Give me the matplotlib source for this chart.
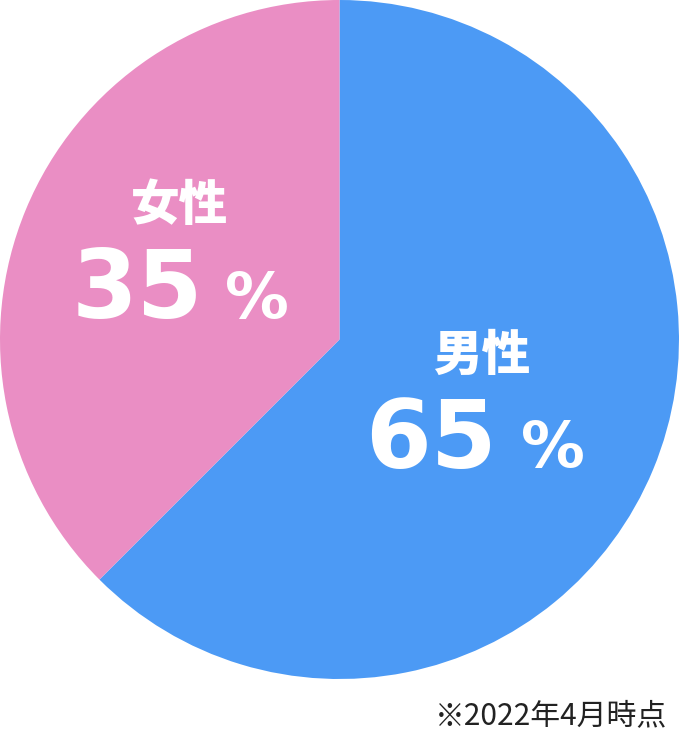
import matplotlib
matplotlib.use("Agg")
import matplotlib.pyplot as plt

# Data
categories = ["男性", "女性"]
slice_values = [62.5, 37.5]          # slice sizes as drawn in the picture
percent_labels = ["65", "35"]        # printed numbers
colors = ["#4C9AF5", "#EA8EC4"]
footnote = "※2022年4月時点"

W, H = 679, 730
fig = plt.figure(figsize=(W / 100, H / 100), dpi=100)
fig.patch.set_facecolor("white")

ax = fig.add_axes([0, (H - 679) / H, 679 / W, 679 / H])
ax.pie(slice_values, colors=colors, startangle=90, counterclock=False,
       radius=1.0, wedgeprops=dict(linewidth=0))
ax.set_xlim(-1, 1)
ax.set_ylim(-1, 1)
ax.set_aspect("equal")
ax.axis("off")


def fx(px):
    return px / W


def fy(py):
    return 1 - py / H


cjk = ["Noto Sans CJK JP", "DejaVu Sans"]

# label positions (pixel centers / baselines)
cat_pos = [(481.5, 370), (179.5, 220)]
num_pos = [(431, 468), (137, 318)]
pct_pos = [(553, 467), (257, 318)]

for cat, num, (cx, cb), (nx, nb), (px, pb) in zip(categories, percent_labels,
                                                   cat_pos, num_pos, pct_pos):
    fig.text(fx(cx), fy(cb), cat, family=cjk, fontweight="black", fontsize=35,
             color="white", ha="center", va="baseline")
    fig.text(fx(nx), fy(nb), num, family="DejaVu Sans", fontweight="bold",
             fontsize=68, color="white", ha="center", va="baseline")
    fig.text(fx(px), fy(pb), "%", family="DejaVu Sans", fontweight="bold",
             fontsize=46, color="white", ha="center", va="baseline")

fig.text(fx(667), fy(724), footnote, family=cjk, fontsize=21.5, color="#222222",
         ha="right", va="baseline")

fig.savefig("out.png", dpi=100, facecolor="white")
